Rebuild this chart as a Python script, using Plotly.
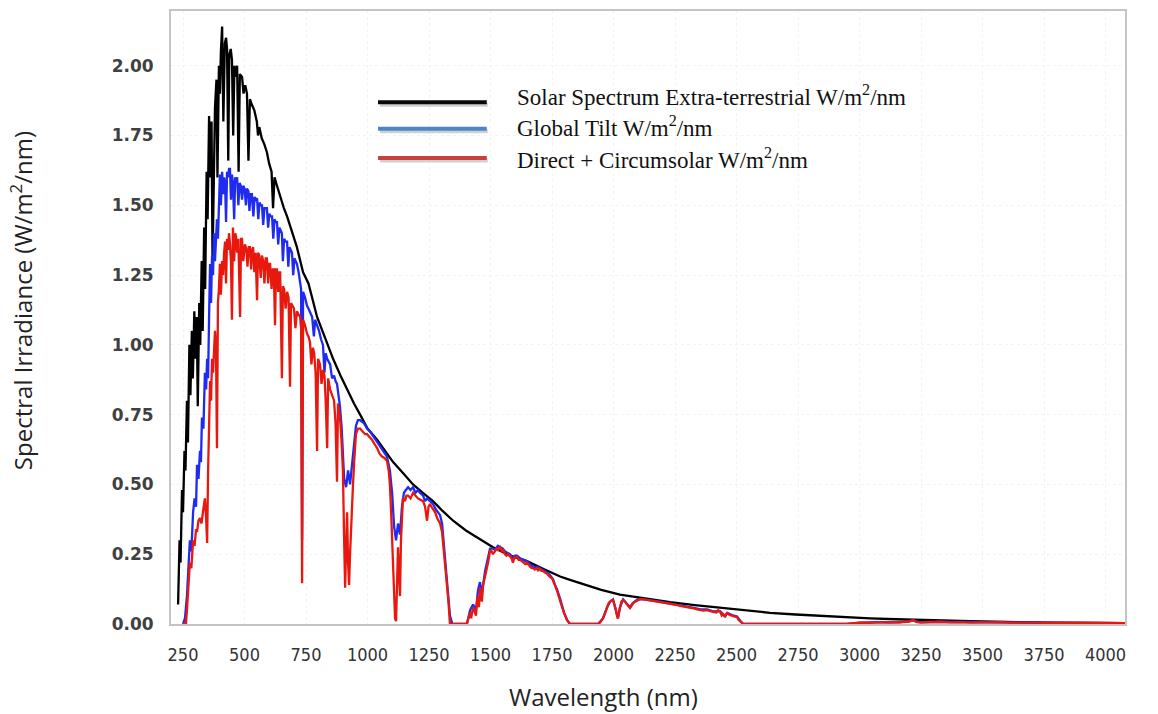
import plotly.graph_objects as go

# ---------------------------------------------------------------------------
# Solar spectral irradiance (W/m^2/nm) versus wavelength (nm)
# ---------------------------------------------------------------------------

# Extra-terrestrial spectrum
etr_wl = [230, 236, 240, 246, 250, 256, 260, 266, 270, 276, 280, 286, 290, 296,
          300, 306, 310, 316, 320, 326, 330, 336, 340, 346, 350, 356, 360, 366,
          370, 376, 380, 386, 390, 396, 400, 404, 409, 414, 420, 425, 429, 434,
          438, 444, 449, 454, 459, 465, 470, 476, 481, 490, 496, 503, 510, 516,
          522, 530, 540, 550, 555, 560, 570, 580, 591, 600, 610, 616, 622, 632,
          645, 660, 673, 690, 713, 738, 760, 795, 830, 860, 890, 917, 945, 970,
          1000, 1039, 1070, 1104, 1145, 1185, 1225, 1266, 1305, 1348, 1400,
          1445, 1510, 1580, 1648, 1720, 1783, 1823, 1900, 1950, 2026, 2108,
          2189, 2230, 2330, 2433, 2540, 2636, 2740, 2839, 2940, 3043, 3150,
          3246, 3350, 3449, 3550, 3652, 3800, 3950, 4079]
etr_irr = [0.07, 0.30, 0.22, 0.48, 0.40, 0.62, 0.55, 0.80, 0.65, 1.00, 0.82, 1.05,
           0.88, 1.12, 0.95, 1.10, 0.78, 1.15, 1.00, 1.30, 1.05, 1.42, 1.20, 1.62,
           1.45, 1.82, 1.60, 1.80, 1.30, 1.75, 1.85, 1.95, 1.60, 2.00, 1.90, 2.05,
           2.14, 1.80, 2.08, 2.10, 2.06, 1.66, 2.04, 2.06, 2.02, 1.75, 2.00, 1.96,
           2.00, 1.62, 1.97, 1.96, 1.90, 1.93, 1.90, 1.66, 1.88, 1.86, 1.84, 1.80,
           1.75, 1.78, 1.74, 1.72, 1.69, 1.65, 1.62, 1.49, 1.60, 1.57, 1.53, 1.49,
           1.46, 1.41, 1.35, 1.26, 1.22, 1.10, 1.02, 0.95, 0.89, 0.84, 0.79, 0.75,
           0.70, 0.66, 0.62, 0.58, 0.54, 0.50, 0.47, 0.44, 0.405, 0.37, 0.335,
           0.31, 0.275, 0.245, 0.225, 0.195, 0.17, 0.158, 0.135, 0.122, 0.105,
           0.094, 0.083, 0.078, 0.068, 0.058, 0.048, 0.040, 0.034, 0.029, 0.024,
           0.020, 0.017, 0.014, 0.012, 0.010, 0.008, 0.006, 0.005, 0.004, 0.003]

# Global tilt spectrum
glo_wl = [250, 258, 266, 272, 278, 284, 291, 297, 303, 307, 313, 319, 323, 327,
          333, 339, 344, 348, 352, 356, 360, 364, 368, 372, 376, 380, 384, 388,
          392, 396, 400, 404, 409, 413, 417, 421, 425, 429, 433, 437, 441, 445,
          449, 453, 458, 462, 466, 470, 475, 480, 485, 490, 495, 500, 506, 510,
          516, 520, 525, 530, 536, 541, 546, 551, 556, 561, 566, 571, 576, 581,
          586, 591, 596, 601, 606, 612, 617, 622, 627, 632, 637, 642, 647, 652,
          656, 661, 667, 673, 678, 683, 688, 693, 698, 703, 708, 713, 720, 726,
          730, 734, 738, 746, 754, 760, 766, 775, 782, 787, 795, 803, 811, 819,
          825, 830, 836, 842, 848, 856, 864, 870, 876, 882, 888, 895, 900, 905,
          913, 921, 929, 937, 945, 953, 961, 970, 985, 998, 1010, 1025, 1039,
          1050, 1065, 1079, 1091, 1100, 1108, 1116, 1124, 1132, 1140, 1148, 1156,
          1165, 1175, 1185, 1195, 1205, 1213, 1226, 1234, 1242, 1254, 1266, 1278,
          1287, 1295, 1303, 1311, 1319, 1327, 1335, 1345, 1404, 1417, 1429, 1441,
          1449, 1457, 1465, 1478, 1490, 1498, 1510, 1518, 1530, 1539, 1550, 1559,
          1570, 1579, 1591, 1600, 1608, 1620, 1635, 1648, 1660, 1673, 1690, 1701,
          1713, 1730, 1742, 1754, 1762, 1770, 1783, 1791, 1799, 1811, 1823, 1937,
          1957, 1974, 1986, 1998, 2010, 2018, 2026, 2039, 2055, 2067, 2078, 2088,
          2098, 2108, 2130, 2149, 2170, 2189, 2210, 2230, 2250, 2270, 2299, 2331,
          2352, 2380, 2405, 2433, 2453, 2462, 2482, 2502, 2515, 2527, 2949, 3002,
          3083, 3164, 3217, 3246, 3327, 3408, 3490, 3571, 3652, 3774, 3896, 4018,
          4079]
glo_irr = [0.0, 0.02, 0.10, 0.20, 0.30, 0.26, 0.40, 0.45, 0.42, 0.57, 0.52, 0.62,
           0.58, 0.74, 0.70, 0.90, 0.84, 0.95, 0.88, 1.10, 1.29, 1.15, 1.32, 1.25,
           1.40, 1.30, 1.42, 1.45, 1.38, 1.55, 1.61, 1.50, 1.62, 1.54, 1.60, 1.58,
           1.44, 1.62, 1.60, 1.63, 1.63, 1.52, 1.61, 1.58, 1.45, 1.60, 1.59, 1.60,
           1.50, 1.58, 1.57, 1.52, 1.57, 1.56, 1.50, 1.56, 1.55, 1.48, 1.54, 1.54,
           1.46, 1.53, 1.52, 1.525, 1.45, 1.51, 1.50, 1.50, 1.43, 1.49, 1.49, 1.49,
           1.42, 1.47, 1.46, 1.46, 1.38, 1.45, 1.44, 1.44, 1.36, 1.42, 1.41, 1.40,
           1.30, 1.38, 1.37, 1.37, 1.28, 1.35, 1.34, 1.33, 1.25, 1.31, 1.30, 1.29,
           1.26, 1.22, 1.20, 0.30, 1.19, 1.17, 1.14, 1.13, 1.12, 1.10, 1.03, 1.09,
           1.07, 1.05, 1.02, 1.00, 0.90, 0.97, 0.95, 0.94, 0.93, 0.88, 0.89, 0.87,
           0.86, 0.82, 0.78, 0.70, 0.62, 0.52, 0.49, 0.55, 0.50, 0.58, 0.66, 0.71,
           0.73, 0.73, 0.72, 0.70, 0.69, 0.67, 0.65, 0.64, 0.62, 0.60, 0.55, 0.47,
           0.35, 0.30, 0.36, 0.32, 0.42, 0.47, 0.48, 0.49, 0.48, 0.49, 0.47, 0.48,
           0.47, 0.46, 0.44, 0.45, 0.44, 0.43, 0.41, 0.40, 0.39, 0.36, 0.28, 0.19,
           0.10, 0.03, 0.0, 0.0, 0.05, 0.07, 0.05, 0.12, 0.15, 0.11, 0.19, 0.24,
           0.27, 0.27, 0.265, 0.28, 0.275, 0.27, 0.26, 0.255, 0.25, 0.235, 0.245,
           0.245, 0.235, 0.23, 0.225, 0.215, 0.205, 0.205, 0.20, 0.195, 0.185,
           0.175, 0.16, 0.14, 0.125, 0.09, 0.06, 0.04, 0.015, 0.0, 0.0, 0.02, 0.06,
           0.08, 0.088, 0.05, 0.02, 0.06, 0.088, 0.072, 0.06, 0.075, 0.082, 0.088,
           0.09, 0.088, 0.086, 0.083, 0.08, 0.077, 0.074, 0.07, 0.067, 0.063,
           0.057, 0.052, 0.052, 0.045, 0.046, 0.028, 0.04, 0.032, 0.027, 0.012,
           0.0, 0.0, 0.005, 0.007, 0.006, 0.013, 0.006, 0.008, 0.007, 0.006, 0.007,
           0.006, 0.004, 0.004, 0.003, 0.003]

# Direct + circumsolar spectrum
dir_wl = [250, 262, 266, 270, 274, 278, 284, 291, 297, 303, 307, 313, 319, 325,
          331, 335, 339, 344, 348, 352, 356, 360, 364, 368, 372, 376, 380, 384,
          388, 392, 396, 400, 404, 409, 413, 417, 421, 425, 429, 433, 437, 441,
          445, 449, 453, 458, 462, 465, 470, 475, 482, 486, 490, 495, 502, 508,
          512, 517, 522, 527, 531, 535, 540, 545, 551, 555, 560, 566, 571, 576,
          581, 586, 591, 596, 600, 604, 610, 615, 619, 624, 628, 632, 637, 641,
          645, 652, 656, 661, 667, 673, 679, 685, 689, 695, 701, 707, 713, 719,
          726, 730, 734, 738, 746, 754, 760, 766, 772, 778, 783, 789, 795, 799,
          807, 813, 819, 825, 830, 836, 840, 848, 856, 864, 870, 876, 880, 884,
          888, 894, 900, 905, 909, 913, 917, 921, 925, 929, 933, 937, 941, 947,
          953, 961, 970, 980, 990, 998, 1008, 1018, 1028, 1039, 1049, 1059, 1069,
          1079, 1086, 1091, 1096, 1100, 1104, 1108, 1112, 1116, 1120, 1124, 1128,
          1132, 1136, 1140, 1144, 1152, 1158, 1165, 1175, 1185, 1195, 1205, 1215,
          1226, 1234, 1242, 1248, 1254, 1260, 1266, 1275, 1283, 1290, 1295, 1303,
          1311, 1317, 1323, 1329, 1335, 1404, 1410, 1417, 1421, 1429, 1435, 1441,
          1445, 1449, 1453, 1457, 1461, 1465, 1470, 1478, 1484, 1490, 1494, 1498,
          1505, 1510, 1518, 1524, 1530, 1539, 1546, 1552, 1559, 1565, 1572, 1579,
          1586, 1591, 1596, 1602, 1608, 1614, 1620, 1627, 1635, 1641, 1648, 1655,
          1661, 1667, 1673, 1680, 1688, 1694, 1701, 1707, 1713, 1720, 1730, 1740,
          1748, 1754, 1762, 1770, 1777, 1783, 1791, 1799, 1805, 1811, 1823, 1937,
          1945, 1957, 1966, 1974, 1980, 1986, 1992, 1998, 2004, 2010, 2014, 2018,
          2022, 2026, 2032, 2039, 2047, 2055, 2061, 2067, 2073, 2080, 2088, 2098,
          2108, 2120, 2135, 2149, 2165, 2180, 2189, 2200, 2215, 2230, 2245, 2260,
          2270, 2285, 2299, 2315, 2331, 2340, 2352, 2365, 2380, 2392, 2405, 2418,
          2425, 2433, 2440, 2446, 2453, 2458, 2462, 2470, 2476, 2482, 2490, 2502,
          2508, 2515, 2520, 2527, 2949, 2975, 3002, 3040, 3083, 3120, 3164, 3200,
          3217, 3232, 3246, 3290, 3327, 3370, 3408, 3450, 3490, 3530, 3571, 3610,
          3652, 3700, 3774, 3830, 3896, 3960, 4018, 4079]
dir_irr = [0.0, 0.0, 0.05, 0.12, 0.18, 0.22, 0.20, 0.30, 0.28, 0.34, 0.33, 0.37,
           0.38, 0.36, 0.40, 0.42, 0.45, 0.38, 0.29, 0.55, 0.70, 0.87, 0.80, 0.95,
           0.90, 1.02, 1.05, 1.00, 0.63, 1.15, 1.20, 1.29, 1.18, 1.30, 1.25, 1.33,
           1.37, 1.22, 1.38, 1.34, 1.40, 1.36, 1.30, 1.09, 1.42, 1.30, 1.40, 1.39,
           1.33, 1.38, 1.10, 1.38, 1.38, 1.30, 1.36, 1.34, 1.28, 1.35, 1.35, 1.27,
           1.34, 1.35, 1.26, 1.33, 1.16, 1.33, 1.32, 1.24, 1.32, 1.30, 1.22, 1.31,
           1.31, 1.22, 1.29, 1.29, 1.20, 1.27, 1.27, 1.07, 1.27, 1.27, 1.19, 1.26,
           1.26, 0.88, 1.21, 1.20, 1.13, 1.19, 1.17, 0.85, 1.15, 1.14, 1.13, 1.06,
           1.12, 1.11, 1.10, 1.06, 0.146, 1.09, 1.07, 1.04, 1.03, 1.01, 0.93, 0.99,
           0.97, 0.90, 0.62, 0.95, 0.93, 0.86, 0.91, 0.89, 0.80, 0.63, 0.88, 0.84,
           0.82, 0.80, 0.72, 0.51, 0.79, 0.76, 0.74, 0.66, 0.55, 0.30, 0.13, 0.28,
           0.40, 0.22, 0.14, 0.25, 0.35, 0.42, 0.50, 0.60, 0.68, 0.70, 0.70, 0.69,
           0.68, 0.68, 0.67, 0.66, 0.645, 0.63, 0.61, 0.60, 0.595, 0.585, 0.55,
           0.50, 0.40, 0.30, 0.15, 0.05, 0.02, 0.01, 0.15, 0.275, 0.18, 0.10, 0.30,
           0.40, 0.45, 0.44, 0.46, 0.46, 0.45, 0.47, 0.46, 0.45, 0.445, 0.44, 0.42,
           0.37, 0.42, 0.43, 0.42, 0.41, 0.40, 0.38, 0.37, 0.36, 0.33, 0.25, 0.21,
           0.16, 0.08, 0.0, 0.0, 0.02, 0.04, 0.02, 0.06, 0.045, 0.03, 0.08, 0.10,
           0.06, 0.13, 0.10, 0.08, 0.14, 0.17, 0.19, 0.22, 0.24, 0.265, 0.26, 0.25,
           0.26, 0.27, 0.265, 0.275, 0.26, 0.265, 0.25, 0.245, 0.25, 0.24, 0.235,
           0.22, 0.235, 0.24, 0.24, 0.23, 0.23, 0.225, 0.22, 0.215, 0.22, 0.21,
           0.205, 0.20, 0.20, 0.195, 0.20, 0.19, 0.20, 0.19, 0.19, 0.185, 0.18,
           0.17, 0.165, 0.157, 0.14, 0.12, 0.10, 0.086, 0.06, 0.04, 0.025, 0.014,
           0.0, 0.0, 0.005, 0.02, 0.04, 0.06, 0.075, 0.08, 0.085, 0.086, 0.07,
           0.05, 0.03, 0.02, 0.04, 0.06, 0.08, 0.086, 0.08, 0.07, 0.062, 0.057,
           0.065, 0.075, 0.08, 0.086, 0.089, 0.088, 0.087, 0.085, 0.082, 0.08,
           0.079, 0.077, 0.075, 0.072, 0.069, 0.068, 0.065, 0.063, 0.061, 0.058,
           0.055, 0.052, 0.05, 0.048, 0.05, 0.046, 0.043, 0.041, 0.05, 0.045,
           0.03, 0.035, 0.025, 0.036, 0.039, 0.033, 0.03, 0.03, 0.027, 0.025,
           0.015, 0.01, 0.004, 0.0, 0.0, 0.003, 0.005, 0.004, 0.007, 0.005, 0.006,
           0.008, 0.014, 0.007, 0.006, 0.007, 0.008, 0.006, 0.007, 0.005, 0.006,
           0.005, 0.007, 0.005, 0.006, 0.005, 0.004, 0.005, 0.004, 0.004, 0.003,
           0.003]

x_ticks = [250, 500, 750, 1000, 1250, 1500, 1750, 2000, 2250, 2500, 2750,
           3000, 3250, 3500, 3750, 4000]
y_ticks = [0.0, 0.25, 0.5, 0.75, 1.0, 1.25, 1.5, 1.75, 2.0]
y_tick_text = ["0.00", "0.25", "0.50", "0.75", "1.00", "1.25", "1.50", "1.75", "2.00"]

legend_names = ["Solar Spectrum Extra-terrestrial W/m<sup>2</sup>/nm",
                "Global Tilt W/m<sup>2</sup>/nm",
                "Direct + Circumsolar W/m<sup>2</sup>/nm"]

curve_colors = ["#000000", "#1f2bf0", "#e8180e"]
legend_colors = ["#0a0a0a", "#4c86c9", "#c9413d"]

fig = go.Figure()
series = [(etr_wl, etr_irr), (glo_wl, glo_irr), (dir_wl, dir_irr)]
for (wl, irr), name, col in zip(series, legend_names, curve_colors):
    fig.add_trace(go.Scatter(x=wl, y=irr, mode="lines", name=name,
                             line=dict(color=col, width=2.3),
                             showlegend=False))

# Legend drawn as long line samples with serif labels
line_y = [0.851, 0.808, 0.760]
text_y = [0.862, 0.811, 0.759]
for name, col, ly, ty in zip(legend_names, legend_colors, line_y, text_y):
    fig.add_shape(type="line", xref="paper", yref="paper",
                  x0=0.219, x1=0.332, y0=ly - 0.004, y1=ly - 0.004,
                  line=dict(color="rgba(120,120,120,0.35)", width=4))
    fig.add_shape(type="line", xref="paper", yref="paper",
                  x0=0.217, x1=0.331, y0=ly, y1=ly,
                  line=dict(color=col, width=4))
    fig.add_annotation(x=0.3606, y=ty, xref="paper", yref="paper",
                       text=name, showarrow=False, xanchor="left", yanchor="middle",
                       font=dict(family="Liberation Serif", size=23, color="#111111"))

# Axis titles
fig.add_annotation(x=0.453, y=-0.119, xref="paper", yref="paper",
                   text="Wavelength (nm)", showarrow=False,
                   xanchor="center", yanchor="middle",
                   font=dict(family="Open Sans", size=24, color="#222222"))
fig.add_annotation(x=-0.156, y=0.527, xref="paper", yref="paper",
                   text="Spectral Irradiance (W/m<sup>2</sup>/nm)", showarrow=False,
                   textangle=-90, xanchor="center", yanchor="middle",
                   font=dict(family="Open Sans", size=24, color="#222222"))

fig.update_xaxes(range=[201.2, 4079], tickvals=x_ticks,
                 ticktext=[str(v) for v in x_ticks],
                 showline=True, mirror=True, linecolor="#c4c4c4", linewidth=2,
                 showgrid=True, gridcolor="#f3f3f3", griddash="dot", gridwidth=1,
                 zeroline=False, ticks="", ticklabelstandoff=13,
                 tickfont=dict(family="Liberation Sans Narrow, DejaVu Sans Condensed, sans-serif",
                               size=18, color="#333333"))
fig.update_yaxes(range=[0, 2.196], tickvals=y_ticks, ticktext=y_tick_text,
                 showline=True, mirror=True, linecolor="#c4c4c4", linewidth=2,
                 showgrid=True, gridcolor="#f3f3f3", griddash="dot", gridwidth=1,
                 zeroline=False, ticks="", ticklabelstandoff=12,
                 tickfont=dict(family="DejaVu Sans", size=17, color="#404040",
                               weight="bold"))

fig.update_layout(width=1158, height=714,
                  margin=dict(l=171, r=33, t=9, b=90),
                  paper_bgcolor="white", plot_bgcolor="white")

fig.write_html("out.html")
